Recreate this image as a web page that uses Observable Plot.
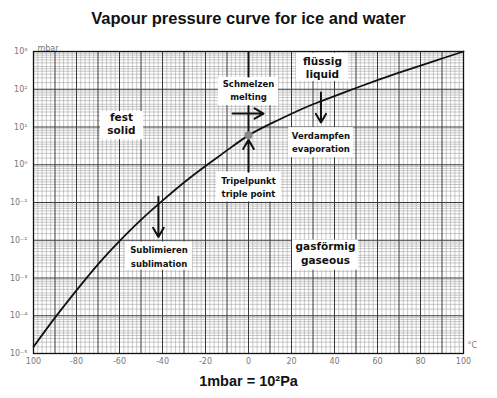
<!DOCTYPE html>
<html>
<head>
<meta charset="utf-8">
<script src="https://cdn.jsdelivr.net/npm/d3@7"></script>
<script src="https://cdn.jsdelivr.net/npm/@observablehq/plot@0.6"></script>
<style>
  body { margin: 0; background: #fff; width: 497px; font-family: "Liberation Sans", Arial, sans-serif; }
  #title { height: 36px; box-sizing: border-box; padding-top: 9px; text-align: center; font-weight: bold; font-size: 16.5px; line-height: 18px; color: #111; }
  #caption { text-align: center; font-weight: bold; font-size: 14.5px; line-height: 16px; margin-top: 0px; color: #111; }
  svg { display: block; }
</style>
</head>
<body>
<div id="title">Vapour pressure curve for ice and water</div>
<div id="chart"></div>
<div id="caption">1mbar = 10²Pa</div>
<script>
// Temperature (°C) and vapour pressure (mbar)
const temperature = [-100, -90, -80, -70, -60, -50, -40, -30, -20, -10, 0, 10, 20, 30, 40, 50, 60, 70, 80, 90, 100];
const pressure = [1.5e-5, 8.9e-5, 4.7e-4, 2.3e-3, 9.5e-3, 3.47e-2, 0.112, 0.339, 0.93, 2.4, 6.0, 12.0, 22.5, 40, 66, 108, 174, 274, 425, 652, 1000];

const xTickValues = [-100, -80, -60, -40, -20, 0, 20, 40, 60, 80, 100];
const xTickLabels = ["100", "-80", "-60", "-40", "-20", "0", "20", "40", "60", "80", "100"];
const yTickExponents = [-5, -4, -3, -2, -1, 0, 1, 2, 3];

// Annotation boxes (data coordinates)
const boxLeft   = [-68.8, -14.0, -14.9, 22.3, 18.6, -57.2, 20.5];
const boxRight  = [-48.8,  14.0,  15.3, 46.5, 48.8, -26.0, 51.2];
const boxTop    = [25.7, 206, 0.65, 896, 9.6, 0.00895, 0.0101];
const boxBottom = [4.62, 37, 0.104, 161, 1.53, 0.00161, 0.00161];

const labelText = ["fest", "solid", "Schmelzen", "melting", "Tripelpunkt", "triple point", "flüssig", "liquid", "Verdampfen", "evaporation", "Sublimieren", "sublimation", "gasförmig", "gaseous"];
const labelX = [-59.1, -59.1, 0, 0, 0, 0, 34.4, 34.4, 33.7, 33.7, -41.6, -41.6, 35.8, 35.8];
const labelY = [17.8, 8.0, 134, 60.5, 0.375, 0.169, 548, 248, 5.56, 2.5, 0.00548, 0.00233, 0.00659, 0.0028];
const labelSize = [10.5, 10.5, 8.5, 8.5, 8.5, 8.5, 10.5, 10.5, 8.5, 8.5, 8.5, 8.5, 10.5, 10.5];

// Arrows (data coordinates)
const arrowX1 = [-7.4, 33.7, -41.9, 0];
const arrowX2 = [7.0, 33.7, -41.9, 0];
const arrowY1 = [22.7, 82, 0.141, 0.65];
const arrowY2 = [22.7, 13.1, 0.0122, 4.6];

// Plain lines (melting boundary)
const lineX1 = [0, 0];
const lineY1 = [1000, 37];
const lineY2 = [206, 6.0];

const curve = temperature.map((t, i) => ({t, p: pressure[i]}));
const boxes = boxLeft.map((v, i) => ({x1: v, x2: boxRight[i], y1: boxBottom[i], y2: boxTop[i]}));
const labels = labelText.map((s, i) => ({text: s, x: labelX[i], y: labelY[i], size: labelSize[i]}));
const arrows = arrowX1.map((v, i) => ({x1: v, x2: arrowX2[i], y1: arrowY1[i], y2: arrowY2[i]}));
const lines = lineX1.map((v, i) => ({x: v, y1: lineY1[i], y2: lineY2[i]}));

const sup = {"-": "⁻", "0": "⁰", "1": "¹", "2": "²", "3": "³", "4": "⁴", "5": "⁵", "6": "⁶", "7": "⁷", "8": "⁸", "9": "⁹"};
const fmtExp = d => "10" + String(Math.round(Math.log10(d))).split("").map(c => sup[c]).join("");

const minorX = d3.range(-98, 100, 2).filter(v => v % 10 !== 0);
const majorX = d3.range(-90, 100, 10);
const minorY = [];
for (let k = -5; k < 3; k++) for (const m of [1.5, 2, 2.5, 3, 3.5, 4, 5, 6, 7, 8, 9]) minorY.push(m * 10 ** k);
const majorY = yTickExponents.slice(1, -1).map(e => 10 ** e);

const font = "'DejaVu Sans', Verdana, sans-serif";

const chart = Plot.plot({
  width: 497,
  height: 337,
  marginTop: 15,
  marginBottom: 20,
  marginLeft: 33,
  marginRight: 34,
  style: {fontFamily: font, background: "white"},
  x: {domain: [-100, 100]},
  y: {type: "log", domain: [1e-5, 1e3]},
  marks: [
    Plot.ruleX(minorX, {stroke: "#a5a5a5", strokeWidth: 0.6}),
    Plot.ruleY(minorY, {stroke: "#a5a5a5", strokeWidth: 0.6}),
    Plot.ruleX(majorX, {stroke: "#3a3a3a", strokeWidth: 1}),
    Plot.ruleY(majorY, {stroke: "#3a3a3a", strokeWidth: 1}),
    Plot.frame({stroke: "#111", strokeWidth: 1.3}),
    Plot.axisX({ticks: xTickValues, tickFormat: (d, i) => xTickLabels[i], tickSize: 0, tickPadding: 5, fontSize: 8, fill: "#777"}),
    Plot.axisY({ticks: yTickExponents.map(e => 10 ** e), tickFormat: fmtExp, tickSize: 0, tickPadding: 6, fontSize: 8, fill: "#777", label: null}),
    Plot.text(["mbar"], {frameAnchor: "top-left", dx: 4, dy: -6, textAnchor: "start", fontSize: 8, fill: "#777"}),
    Plot.text(["°C"], {frameAnchor: "bottom-right", dx: 4, dy: -6, textAnchor: "start", fontSize: 8, fill: "#777"}),
    Plot.line(curve, {x: "t", y: "p", curve: "natural", stroke: "#111", strokeWidth: 1.8}),
    Plot.rect(boxes, {x1: "x1", x2: "x2", y1: "y1", y2: "y2", fill: "white"}),
    Plot.link(lines, {x1: "x", x2: "x", y1: "y1", y2: "y2", stroke: "#111", strokeWidth: 2}),
    Plot.arrow(arrows, {x1: "x1", x2: "x2", y1: "y1", y2: "y2", stroke: "#111", strokeWidth: 2, headLength: 8}),
    Plot.dot([curve[10]], {x: "t", y: "p", r: 4, fill: "#888", stroke: "none"}),
    Plot.text(labels, {x: "x", y: "y", text: "text", fontSize: d => d.size, fontWeight: "bold", fill: "#111"})
  ]
});
document.getElementById("chart").appendChild(chart);
</script>
</body>
</html>
